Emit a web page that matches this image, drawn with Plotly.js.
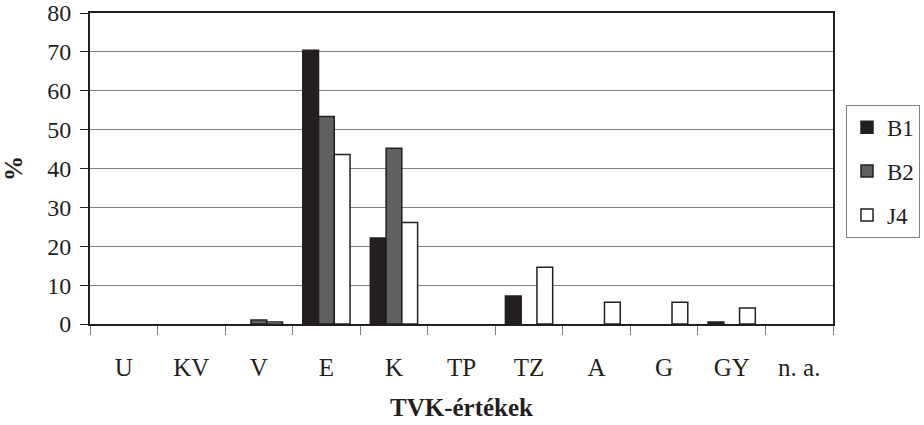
<!DOCTYPE html>
<html>
<head>
<meta charset="utf-8">
<script src="https://cdn.plot.ly/plotly-3.0.1.min.js"></script>
<style>html,body{margin:0;padding:0;background:#fff;}#chart{width:924px;height:425px;}</style>
</head>
<body>
<div id="chart"></div>
<script>
const categories = ["U", "KV", "V", "E", "K", "TP", "TZ", "A", "G", "GY", "n. a."];
const seriesNames = ["B1", "B2", "J4"];
const b1 = [0, 0, 0, 70.4, 22.1, 0, 7.2, 0, 0, 0.5, 0];
const b2 = [0, 0, 1.0, 53.4, 45.2, 0, 0, 0, 0, 0, 0];
const j4 = [0, 0, 0.5, 43.6, 26.1, 0, 14.6, 5.6, 5.6, 4.1, 0];
const yTicks = [0, 10, 20, 30, 40, 50, 60, 70, 80];

const fills = ["#231f20", "#606060", "#ffffff"];
const values = [b1, b2, j4];
const font = "'Liberation Serif', 'Times New Roman', Times, serif";

const traces = values.map((v, i) => ({
  type: "bar",
  name: seriesNames[i],
  x: categories,
  y: v.map(d => (d === 0 ? null : d)),
  legendgroup: "g" + i,
  marker: { color: fills[i], line: { color: "#231f20", width: 1.5 } }
}));

const layout = {
  width: 924, height: 425,
  margin: { l: 90, r: 91, t: 13, b: 101, autoexpand: false },
  paper_bgcolor: "#fff", plot_bgcolor: "#fff",
  font: { family: font, size: 24, color: "#231f20" },
  barmode: "group",
  bargap: 0.3,
  bargroupgap: 0,
  showlegend: true,
  legend: {
    x: 1.0175, xanchor: "left", y: 0.705, yanchor: "top",
    bordercolor: "#808080", borderwidth: 1,
    font: { family: font, size: 23, color: "#231f20" },
    tracegroupgap: 11,
    itemwidth: 30
  },
  xaxis: {
    type: "category",
    tickson: "boundaries",
    ticks: "outside", ticklen: 9, tickcolor: "#808080",
    showline: true, linecolor: "#231f20", linewidth: 2, mirror: true,
    showgrid: false,
    automargin: false,
    ticklabelstandoff: 20,
    tickfont: { family: font, size: 25, color: "#231f20" },
    title: { text: "<b>TVK-értékek</b>", font: { family: font, size: 25, color: "#231f20" }, standoff: 18 }
  },
  yaxis: {
    range: [0, 80],
    tickvals: yTicks,
    ticks: "outside", ticklen: 8, tickcolor: "#231f20",
    showline: true, linecolor: "#231f20", linewidth: 2, mirror: true,
    showgrid: true, gridcolor: "#808080", gridwidth: 1,
    zeroline: false,
    automargin: false,
    ticklabelstandoff: 4,
    tickfont: { family: font, size: 24, color: "#231f20" },
    title: { text: "<b>%</b>", font: { family: font, size: 25, color: "#231f20" }, standoff: 20 }
  }
};

Plotly.newPlot("chart", traces, layout, { displayModeBar: false, staticPlot: true });
</script>
</body>
</html>
